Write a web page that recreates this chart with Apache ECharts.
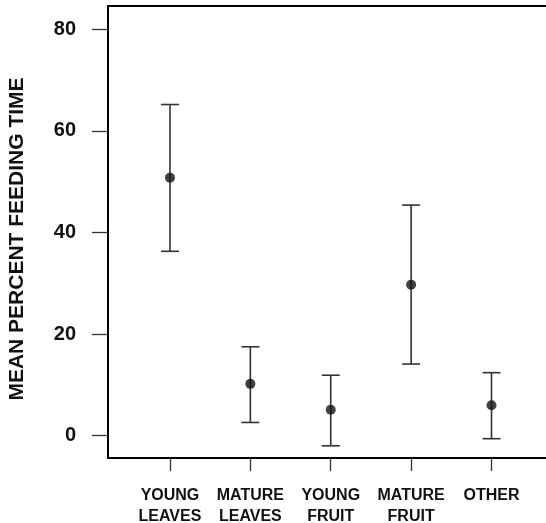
<!DOCTYPE html>
<html>
<head>
<meta charset="utf-8">
<script src="https://cdn.jsdelivr.net/npm/echarts@6/dist/echarts.min.js"></script>
<style>
html, body { margin: 0; padding: 0; background: #fff; }
#chart { width: 546px; height: 523px; }
</style>
</head>
<body>
<div id="chart"></div>
<script>
var categories = ['YOUNG\nLEAVES', 'MATURE\nLEAVES', 'YOUNG\nFRUIT', 'MATURE\nFRUIT', 'OTHER'];
var means = [50.8, 10.2, 5.1, 29.7, 6.0];
var lower = [36.3, 2.6, -2.0, 14.1, -0.6];
var upper = [65.2, 17.5, 11.9, 45.4, 12.4];
var yTicks = [0, 20, 40, 60, 80];
var xPos = [1, 2, 3, 4, 5];

var font = '"Liberation Sans", Arial, sans-serif';

var barData = [], pointData = [];
for (var i = 0; i < categories.length; i++) {
	barData.push([xPos[i], lower[i], upper[i]]);
	pointData.push([xPos[i], means[i]]);
}

var myChart = echarts.init(document.getElementById('chart'));

var option = {
	backgroundColor: '#fff',
	animation: false,
	grid: { left: 108, right: 0, top: 6, bottom: 65, outerBoundsMode: 'none', containLabel: false },
	xAxis: [{
		type: 'value',
		min: 0.229, max: 5.678,
		splitLine: { show: false },
		axisLine: { show: true, onZero: false, lineStyle: { color: '#000', width: 2 } },
		axisTick: { show: true, customValues: xPos, length: 13, lineStyle: { color: '#333', width: 1.3 } },
		axisLabel: {
			customValues: xPos,
			margin: 27,
			color: '#111',
			fontFamily: font,
			fontWeight: 'bold',
			fontSize: 16,
			lineHeight: 21,
			align: 'center',
			formatter: function (v) { return categories[Math.round(v) - 1] || ''; }
		}
	}, {
		type: 'value',
		position: 'top',
		min: 0.229, max: 5.678,
		splitLine: { show: false },
		axisLine: { show: true, onZero: false, lineStyle: { color: '#000', width: 2 } },
		axisTick: { show: false },
		axisLabel: { show: false }
	}],
	yAxis: {
		type: 'value',
		min: -4.4, max: 84.6,
		name: 'MEAN PERCENT FEEDING TIME',
		nameLocation: 'middle',
		nameGap: 80,
		nameTextStyle: { color: '#111', fontFamily: font, fontWeight: 'bold', fontSize: 21, padding: [0, 14, 0, 0] },
		splitLine: { show: false },
		axisLine: { show: true, onZero: false, lineStyle: { color: '#000', width: 2 } },
		axisTick: { show: true, customValues: yTicks, length: 16, lineStyle: { color: '#333', width: 1.3 } },
		axisLabel: {
			customValues: yTicks,
			margin: 32,
			color: '#111',
			fontFamily: font,
			fontWeight: 'bold',
			fontSize: 20
		}
	},
	series: [{
		type: 'custom',
		data: barData,
		renderItem: function (params, api) {
			var lo = api.coord([api.value(0), api.value(1)]);
			var hi = api.coord([api.value(0), api.value(2)]);
			var hw = 9;
			var style = { stroke: '#333', lineWidth: 1.6 };
			return {
				type: 'group',
				children: [
					{ type: 'line', shape: { x1: lo[0], y1: lo[1], x2: hi[0], y2: hi[1] }, style: style },
					{ type: 'line', shape: { x1: lo[0] - hw, y1: lo[1], x2: lo[0] + hw, y2: lo[1] }, style: style },
					{ type: 'line', shape: { x1: hi[0] - hw, y1: hi[1], x2: hi[0] + hw, y2: hi[1] }, style: style }
				]
			};
		},
		z: 2
	}, {
		type: 'scatter',
		data: pointData,
		symbol: 'circle',
		symbolSize: 10,
		itemStyle: { color: '#111' },
		z: 3
	}]
};
myChart.setOption(option);
</script>
</body>
</html>
